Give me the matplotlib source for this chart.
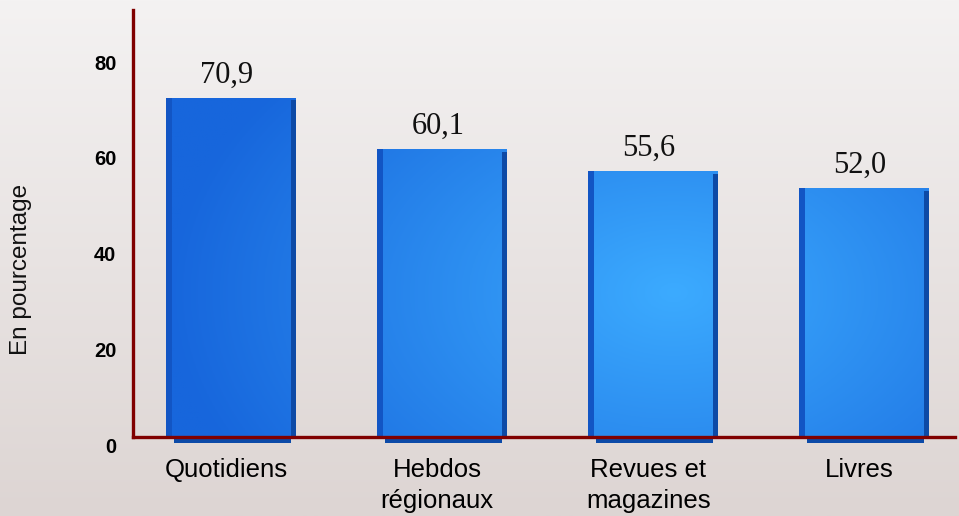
import numpy as np
import matplotlib.pyplot as plt
from matplotlib.colors import LinearSegmentedColormap, to_rgb
from matplotlib.transforms import ScaledTranslation

categories = ['Quotidiens', 'Hebdos\nrégionaux', 'Revues et\nmagazines', 'Livres']
values = [70.9, 60.1, 55.6, 52.0]
value_labels = ['70,9', '60,1', '55,6', '52,0']
yticks = [0, 20, 40, 60, 80]

plt.rcParams['font.family'] = ['Liberation Sans', 'DejaVu Sans']

fig = plt.figure(figsize=(9.59, 5.16), dpi=100)

# background gradient
bg = fig.add_axes([0, 0, 1, 1], zorder=-10)
bg.axis('off')
bg_cmap = LinearSegmentedColormap.from_list('bg', ['#f4f2f2', '#ddd5d3'])
bg.imshow(np.linspace(0, 1, 256)[:, None], aspect='auto', cmap=bg_cmap,
          extent=[0, 1, 0, 1])
bg.set_xlim(0, 1)
bg.set_ylim(0, 1)

ax = fig.add_axes([0.1387, 0.1531, 0.8571, 0.8275])
ax.patch.set_alpha(0)

x = np.arange(len(categories))
w = 0.615
xlim = (-0.465, 3.43)
ylim = (0, 89.2)

# bar shadow / base below the axis
ax.bar(x + 0.005, [1.2] * len(x), width=w - 0.06, bottom=-1.2,
       color='#0c4aa8', clip_on=False, zorder=1)

bars = ax.bar(x, values, width=w, color='#1f7fe8', zorder=2)

# gradient fill across all bars
gx = np.linspace(xlim[0], xlim[1], 300)
gy = np.linspace(ylim[1], ylim[0], 200)
GX, GY = np.meshgrid(gx, gy)
d = np.sqrt(((GX - 2.1) / 2.4) ** 2 + ((GY - 30) / 70) ** 2)
t = np.clip(1 - d, 0, 1)[..., None]
dark = np.array(to_rgb('#1766dc'))
light = np.array(to_rgb('#3cabff'))
img = dark * (1 - t) + light * t
for b in bars:
    im = ax.imshow(img, extent=[xlim[0], xlim[1], ylim[0], ylim[1]],
                   aspect='auto', zorder=3)
    im.set_clip_path(b)

# edge strips for the 3D look
s = 0.025
ax.bar(x - w / 2 + s / 2, values, width=s, color='#1255c4', zorder=4)
ax.bar(x + w / 2 - s / 2, [v - 0.6 for v in values], width=s,
       color='#0d4aa6', zorder=4)

for xi, v, lbl in zip(x, values, value_labels):
    ax.annotate(lbl, (xi, v), xytext=(-3, 11), textcoords='offset points',
                ha='center', va='baseline', fontsize=22,
                family='Liberation Serif', color='#111111')

ax.set_xlim(*xlim)
ax.set_ylim(*ylim)
ax.set_xticks(x)
ax.set_xticklabels(categories, fontsize=18.5, linespacing=1.4)
ax.set_yticks(yticks)
ax.set_yticklabels([str(v) for v in yticks], fontsize=14.5, fontweight='bold')
ax.tick_params(axis='x', length=0, pad=15)
ax.tick_params(axis='y', length=0, pad=12)
for lbl in ax.get_yticklabels():
    lbl.set_transform(lbl.get_transform() +
                      ScaledTranslation(0, -0.08, fig.dpi_scale_trans))
for lbl in ax.get_xticklabels():
    lbl.set_transform(lbl.get_transform() +
                      ScaledTranslation(-0.05, 0, fig.dpi_scale_trans))

for side in ['top', 'right']:
    ax.spines[side].set_visible(False)
for side in ['left', 'bottom']:
    ax.spines[side].set_color('#800000')
    ax.spines[side].set_linewidth(2.4)
    ax.spines[side].set_zorder(6)

fig.text(0.022, 0.477, 'En pourcentage', rotation=90, ha='center',
         va='center', fontsize=17.5, color='#111111')

fig.savefig('out.png', dpi=100)
